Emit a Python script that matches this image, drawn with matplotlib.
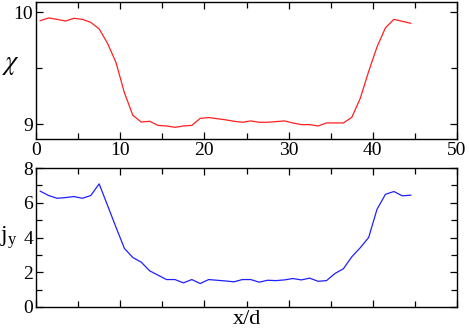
import matplotlib
matplotlib.use("Agg")
import matplotlib.pyplot as plt
from matplotlib.ticker import MultipleLocator

plt.rcParams['font.family'] = ['Liberation Serif', 'DejaVu Serif']
plt.rcParams['mathtext.fontset'] = 'custom'
plt.rcParams['mathtext.rm'] = 'Liberation Serif'
plt.rcParams['mathtext.it'] = 'Liberation Serif'

# positions x/d
x = [i + 0.5 for i in range(45)]

chi = [9.923, 9.947, 9.935, 9.92, 9.944, 9.935, 9.908, 9.85, 9.72, 9.55,
       9.28, 9.08, 9.02, 9.027, 8.99, 8.985, 8.973, 8.985, 8.99, 9.053,
       9.06, 9.05, 9.04, 9.027, 9.018, 9.03, 9.018, 9.018, 9.024, 9.03,
       9.012, 8.997, 8.997, 8.985, 9.012, 9.012, 9.012, 9.062, 9.23, 9.47,
       9.69, 9.86, 9.935, 9.917, 9.90]

jy = [6.67, 6.42, 6.26, 6.30, 6.36, 6.26, 6.42, 7.09, 5.84, 4.59,
      3.37, 2.85, 2.58, 2.08, 1.83, 1.58, 1.58, 1.39, 1.58, 1.35,
      1.58, 1.54, 1.50, 1.45, 1.58, 1.58, 1.43, 1.54, 1.52, 1.56,
      1.64, 1.56, 1.66, 1.48, 1.52, 1.93, 2.20, 2.89, 3.41, 4.0,
      5.63, 6.49, 6.65, 6.40, 6.44]

fig = plt.figure(figsize=(4.69, 3.30), dpi=100)
ax1 = fig.add_axes([0.0768, 0.5788, 0.8977, 0.415])
ax2 = fig.add_axes([0.0768, 0.0697, 0.8977, 0.421])

ax1.plot(x, chi, color='#ff2020', lw=0.9)
ax2.plot(x, jy, color='#2020ff', lw=0.9)

ax1.set_xlim(0, 50)
ax1.set_ylim(8.869, 10.089)
ax1.xaxis.set_major_locator(MultipleLocator(10))
ax1.xaxis.set_minor_locator(MultipleLocator(5))
ax1.set_yticks([9, 10])
ax1.set_yticks([9.5], minor=True)

ax2.set_xlim(0, 50)
ax2.set_ylim(0, 8)
ax2.xaxis.set_major_locator(MultipleLocator(10))
ax2.xaxis.set_minor_locator(MultipleLocator(5))
ax2.yaxis.set_major_locator(MultipleLocator(2))
ax2.yaxis.set_minor_locator(MultipleLocator(1))
ax2.set_xticklabels([])
ax2.set_xlabel('x/d', fontsize=16, labelpad=0)

# y labels placed by hand, like the original
fig.text(11 / 469, 1 - 66 / 330, r'$\chi$', fontsize=19, ha='center',
         va='center', math_fontfamily='stix')
fig.text(9 / 469, 1 - 238 / 330, r'$\mathrm{j_y}$', fontsize=17,
         ha='center', va='center')

for ax in (ax1, ax2):
    ax.tick_params(which='both', direction='in', top=True, right=True,
                   labelsize=14, pad=2)
    ax.tick_params(which='major', length=5, width=0.9)
    ax.tick_params(which='minor', length=4, width=0.9)
    for s in ax.spines.values():
        s.set_linewidth(1.0)

fig.savefig('out.png', dpi=100)
